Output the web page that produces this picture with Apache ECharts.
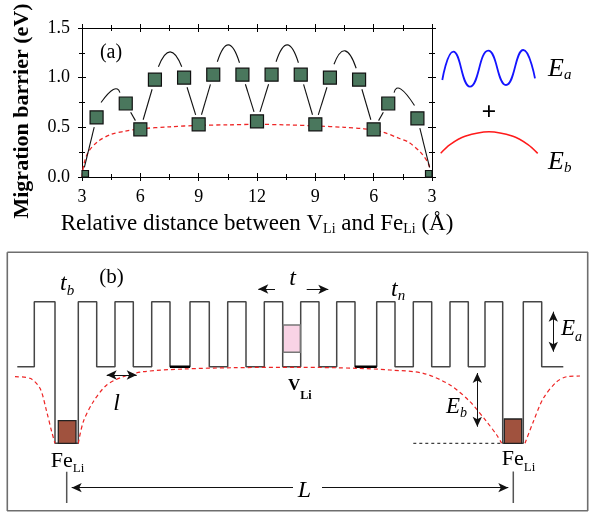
<!DOCTYPE html>
<html><head><meta charset="utf-8">
<script src="https://cdn.jsdelivr.net/npm/echarts@6/dist/echarts.min.js"></script>
<style>html,body{margin:0;padding:0;background:#fff}#c{width:589px;height:514px}</style>
</head><body><div id="c"></div>
<script>
// ---------- panel (a): migration barrier vs distance ----------
const distPos = [3,3.75,5.25,6,6.75,8.25,9,9.75,11.25,12,12.75,14.25,15,15.75,17.25,18,18.75,20.25,21];
const barrier = [0.0,0.60,0.74,0.48,0.98,1.00,0.53,1.03,1.03,0.56,1.03,1.03,0.53,1.00,0.98,0.48,0.74,0.59,0.0];
const xTickLabels = {3:'3',6:'6',9:'9',12:'12',15:'9',18:'6',21:'3'};
const segPairs = [[0,1],[2,3],[3,4],[5,6],[6,7],[8,9],[9,10],[11,12],[12,13],[14,15],[15,16],[17,18]];
const arcStart = [[3.98,0.75],[6.93,1.11],[9.96,1.16],[12.98,1.16],[15.96,1.135],[19.05,0.85]];
const arcPeak  = [[4.61,0.88],[7.53,1.26],[10.53,1.33],[13.56,1.33],[16.53,1.27],[19.40,0.885]];
const arcEnd   = [[4.95,0.85],[8.13,1.11],[11.10,1.15],[14.13,1.15],[17.10,1.095],[20.10,0.72]];
const ebX = [3,3.1,3.32,3.8,4.5,5.2,6,7.5,9,10.5,12,13.5,15,16.5,17.5,18.5,19.3,19.8,20.4,20.8,21];
const ebY = [0,0.13,0.25,0.355,0.43,0.46,0.485,0.505,0.52,0.525,0.53,0.525,0.515,0.50,0.485,0.45,0.39,0.35,0.25,0.14,0];

// ---------- schematic (legend waves + panel b), schematic units ----------
const sineWave = [[442.3,80],[453.3,51.7],[470,86.7],[488.3,50.7],[506,85],[523.3,50],[535,78.3]];
const ebArc = [[440.7,153.2],[450,144.6],[465,136.3],[489,131.7],[513,136.3],[528,144.6],[537.7,153.4]];
const wellX = [17.3,34.3,55,78.3,96.7,115,133.3,151.7,170,190,209.3,227.7,246,264.3,282.7,300.7,319,336.7,355,376.7,395,413.3,431.7,450,468.3,485,502.7,523.3,541.7,563.3];
const wellLevel = ['B','T','D','T','B','T','B','T','B','T','B','T','B','T','B','T','B','T','B','T','B','T','B','T','B','T','D','T','B'];
const levelY = {T:301.7, B:366.7, D:443.3};
const darkBase = [8,18];
const ebLeft = [[15,376.7],[30,378.3],[40,388.3],[46.7,411.7],[51.7,431.7],[55,443.3]];
const ebMid = [[78.3,443.3],[83.3,421.7],[93.3,401.7],[106.7,385],[123.3,376.7],[143.3,371.7],[183.3,369],[233,367.7],[300,367.3],[356.7,368.3],[390,370],[423.3,373.3],[450,385],[470,401.7],[486.7,421.7],[496.7,435],[501.7,443.3]];
const ebRight = [[525,443.3],[533.3,421.7],[543.3,398.3],[556.7,381.7],[566.7,376.7],[580,376]];
const refLine = [[413.3,443.3],[501.7,443.3]];
const panelBox = [[7.3,252.3],[587.7,252.3],[587.7,510.7],[7.3,510.7],[7.3,252.3]];
const siteBoxes = [[58.3,420.7,76,443.3,0],[504.3,419,521.7,443.3,0],[283.3,325,300.3,352.3,1]];
const lTicks = [[66.7,471.7],[66.7,503],null,[513.3,471.5],[513.3,503]];
const arrowDefs = [
  [101.7,375,141.7,375,1,1],
  [275,289,253.3,289,0,1],
  [306.7,289.3,333.3,289.3,0,1],
  [553.3,306.7,553.3,356.7,1,1],
  [477.3,368,477.3,431.7,1,1],
  [293,487.7,66.7,487.7,0,1],
  [322,487.7,513.3,487.7,0,1]
];

const SERIF = '"Liberation Serif","Times New Roman",serif';
const mctx = document.createElement('canvas').getContext('2d');
function tw(font, s){ mctx.font = font; return mctx.measureText(s).width; }
function textRun(x, y, parts, align){
  const widths = parts.map(p => tw(p[1], p[0]));
  const W = widths.reduce((a,b)=>a+b,0);
  let cx = align === 'center' ? x - W/2 : x;
  return parts.map((p,i) => {
    const el = {type:'text', x:cx, y:y+(p[2]||0), silent:true, z:100,
      style:{text:p[0], font:p[1], fill:'#000', align:'left', verticalAlign:'middle', textAlign:'left', textVerticalAlign:'middle'}};
    cx += widths[i];
    return el;
  });
}
const f = (sz, st, wt) => (st||'normal') + ' ' + (wt||'normal') + ' ' + sz + 'px ' + SERIF;

const profile = [];
for (let i = 0; i < wellLevel.length; i++) {
  const y = levelY[wellLevel[i]];
  profile.push([wellX[i], y], [wellX[i+1], y]);
}
const darkSegs = [];
darkBase.forEach(i => { darkSegs.push([wellX[i], levelY.B], [wellX[i+1], levelY.B], null); });

const HEAD = 5;
const arrowLines = arrowDefs.map(a => {
  let [x0,y0,x1,y1,h0,h1] = a;
  const L = Math.hypot(x1-x0, y1-y0), dx = (x1-x0)/L, dy = (y1-y0)/L;
  if (h0) { x0 += dx*HEAD; y0 += dy*HEAD; }
  if (h1) { x1 -= dx*HEAD; y1 -= dy*HEAD; }
  return [{coord:[x0,y0], symbol: h0 ? 'arrow' : 'none'}, {coord:[x1,y1], symbol: h1 ? 'arrow' : 'none'}];
});

const axisFont = {fontFamily: SERIF, fontSize: 18, color: '#000'};
const blk = {color:'#000', width:1};
function xAx(pos, inside, showLine, showLabel){
  return {gridIndex:0, type:'value', min:3, max:21, interval:3, position:pos,
    axisLine:{show:showLine, onZero:false, lineStyle:blk},
    axisTick:{show:true, inside:inside, length:4, lineStyle:blk},
    minorTick:{show:true, splitNumber:2, length:3, lineStyle:blk},
    splitLine:{show:false}, minorSplitLine:{show:false},
    axisLabel:{show:showLabel, margin:11, formatter:v => xTickLabels[v] || '', ...axisFont}};
}
function yAx(pos, inside, showLine, showLabel){
  return {gridIndex:0, type:'value', min:0, max:1.5, interval:0.5, position:pos,
    axisLine:{show:showLine, onZero:false, lineStyle:blk},
    axisTick:{show:true, inside:inside, length:4, lineStyle:blk},
    minorTick:{show:true, splitNumber:2, length:3, lineStyle:blk},
    splitLine:{show:false}, minorSplitLine:{show:false},
    axisLabel:{show:showLabel, margin:12, formatter:v => v.toFixed(1), ...axisFont}};
}

const chart = echarts.init(document.getElementById('c'), null, {renderer:'canvas'});
const option = {
  animation:false,
  backgroundColor:'#fff',
  grid:[
    {left:82, top:28, width:350, height:149, containLabel:false, outerBoundsMode:'none'},
    {left:0, top:0, width:589, height:514, containLabel:false, outerBoundsMode:'none'}
  ],
  xAxis:[
    xAx('bottom', true, true, true),
    xAx('bottom', false, false, false),
    xAx('top', true, true, false),
    xAx('top', false, false, false),
    {gridIndex:1, type:'value', min:0, max:589, show:false}
  ],
  yAxis:[
    yAx('left', true, true, true),
    yAx('left', false, false, false),
    yAx('right', true, true, false),
    yAx('right', false, false, false),
    {gridIndex:1, type:'value', min:0, max:514, inverse:true, show:false}
  ],
  series:[
    {type:'line', xAxisIndex:0, yAxisIndex:0, data: ebX.map((x,i)=>[x, ebY[i]]), smooth:0.3, symbol:'none', z:2, silent:true,
      lineStyle:{color:'#ee2525', width:1.3, type:[4,3]}},
    {type:'custom', xAxisIndex:0, yAxisIndex:0, z:3, silent:true,
      data: segPairs.map(p => [distPos[p[0]], barrier[p[0]], distPos[p[1]], barrier[p[1]]]),
      renderItem:(params, api) => {
        const a = api.coord([api.value(0), api.value(1)]), b = api.coord([api.value(2), api.value(3)]);
        const L = Math.hypot(b[0]-a[0], b[1]-a[1]), ux = (b[0]-a[0])/L, uy = (b[1]-a[1])/L, g = 10;
        return {type:'line', shape:{x1:a[0]+ux*g, y1:a[1]+uy*g, x2:b[0]-ux*g, y2:b[1]-uy*g}, style:{stroke:'#111', lineWidth:1.1}};
      }},
    {type:'custom', xAxisIndex:0, yAxisIndex:0, z:3, silent:true,
      data: arcStart.map((s,i) => [s[0], s[1], arcPeak[i][0], arcPeak[i][1], arcEnd[i][0], arcEnd[i][1]]),
      renderItem:(params, api) => {
        const p0 = api.coord([api.value(0), api.value(1)]), pk = api.coord([api.value(2), api.value(3)]), p1 = api.coord([api.value(4), api.value(5)]);
        const cx = 2*pk[0] - (p0[0]+p1[0])/2, cy = 2*pk[1] - (p0[1]+p1[1])/2;
        return {type:'bezierCurve', shape:{x1:p0[0], y1:p0[1], x2:p1[0], y2:p1[1], cpx1:cx, cpy1:cy}, style:{stroke:'#111', fill:'none', lineWidth:1.1}};
      }},
    {type:'custom', xAxisIndex:0, yAxisIndex:0, z:5, silent:true,
      data: distPos.map((x,i) => [x, barrier[i]]),
      renderItem:(params, api) => {
        const c = api.coord([api.value(0), api.value(1)]), cs = params.coordSys, h = 6.5;
        const x0 = Math.max(c[0]-h, cs.x), x1 = Math.min(c[0]+h, cs.x+cs.width);
        const y0 = Math.max(c[1]-h, cs.y), y1 = Math.min(c[1]+h, cs.y+cs.height);
        return {type:'rect', shape:{x:x0, y:y0, width:x1-x0, height:y1-y0}, style:{fill:'#4a775d', stroke:'#111', lineWidth:1.2}};
      }},
    // legend waves
    {type:'line', xAxisIndex:4, yAxisIndex:4, data:sineWave, smooth:0.5, symbol:'none', silent:true, lineStyle:{color:'#1414ff', width:1.8}},
    {type:'line', xAxisIndex:4, yAxisIndex:4, data:ebArc, smooth:0.3, symbol:'none', silent:true, lineStyle:{color:'#ff1a1a', width:1.5}},
    // panel (b)
    {type:'line', xAxisIndex:4, yAxisIndex:4, data:panelBox, symbol:'none', silent:true, lineStyle:{color:'#6e6e6e', width:1.6}},
    {type:'line', xAxisIndex:4, yAxisIndex:4, data:profile, symbol:'none', silent:true, z:3, lineStyle:{color:'#464646', width:1.5}},
    {type:'line', xAxisIndex:4, yAxisIndex:4, data:darkSegs, symbol:'none', silent:true, z:3, connectNulls:false, lineStyle:{color:'#000', width:2.6}},
    {type:'line', xAxisIndex:4, yAxisIndex:4, data:ebLeft, smooth:0.3, symbol:'none', silent:true, z:4, lineStyle:{color:'#ee2525', width:1.2, type:[4,3]}},
    {type:'line', xAxisIndex:4, yAxisIndex:4, data:ebMid, smooth:0.3, symbol:'none', silent:true, z:4, lineStyle:{color:'#ee2525', width:1.2, type:[4,3]}},
    {type:'line', xAxisIndex:4, yAxisIndex:4, data:ebRight, smooth:0.3, symbol:'none', silent:true, z:4, lineStyle:{color:'#ee2525', width:1.2, type:[4,3]}},
    {type:'line', xAxisIndex:4, yAxisIndex:4, data:lTicks, symbol:'none', silent:true, connectNulls:false, lineStyle:{color:'#555', width:1.5}},
    {type:'custom', xAxisIndex:4, yAxisIndex:4, z:5, silent:true, data:siteBoxes,
      renderItem:(params, api) => {
        const a = api.coord([api.value(0), api.value(1)]), b = api.coord([api.value(2), api.value(3)]);
        const fe = api.value(4) === 0;
        return {type:'rect', shape:{x:a[0], y:a[1], width:b[0]-a[0], height:b[1]-a[1]},
          style:{fill: fe ? '#a0523e' : '#f9d3e5', stroke: fe ? '#222' : '#777', lineWidth: fe ? 1.3 : 1.4}};
      }},
    {type:'line', xAxisIndex:4, yAxisIndex:4, data:refLine, symbol:'none', silent:true, lineStyle:{color:'#111', width:1, type:[3,3]},
      markLine:{silent:true, animation:false, symbol:['none','none'], symbolSize:[7,10], label:{show:false},
        lineStyle:{color:'#111', width:1, type:'solid'}, emphasis:{disabled:true}, data: arrowLines}}
  ],
  graphic: [].concat(
    [{type:'text', x:22, y:111, rotation:Math.PI/2, silent:true,
      style:{text:'Migration barrier (eV)', font:f(22,'normal','bold'), fill:'#000', align:'center', verticalAlign:'middle', textAlign:'center', textVerticalAlign:'middle'}}],
    textRun(257, 223.5, [['Relative distance between V', f(23)], ['Li', f(14), 6], [' and Fe', f(23)], ['Li', f(14), 6], [' (\u00c5)', f(23)]], 'center'),
    textRun(111, 53, [['(a)', f(20)]], 'center'),
    textRun(548, 69.5, [['E', f(26,'italic')], ['a', f(15,'italic'), 6]], 'left'),
    textRun(548, 162.5, [['E', f(26,'italic')], ['b', f(15,'italic'), 6]], 'left'),
    textRun(489, 113.5, [['+', f(26,'normal','bold')]], 'center'),
    textRun(111.5, 277, [['(b)', f(21)]], 'center'),
    textRun(60, 283.5, [['t', f(24,'italic')], ['b', f(15,'italic'), 8]], 'left'),
    textRun(292.5, 278.5, [['t', f(24,'italic')]], 'center'),
    textRun(391, 290, [['t', f(24,'italic')], ['n', f(15,'italic'), 6.5]], 'left'),
    textRun(116.5, 403.5, [['l', f(24,'italic')]], 'center'),
    textRun(288, 386, [['V', f(17,'normal','bold')], ['Li', f(12,'normal','bold'), 10]], 'left'),
    textRun(50.7, 461, [['Fe', f(22)], ['Li', f(13), 8]], 'left'),
    textRun(501.7, 459.6, [['Fe', f(22)], ['Li', f(13), 8]], 'left'),
    textRun(304.5, 490.5, [['L', f(24,'italic')]], 'center'),
    textRun(561, 329, [['E', f(23,'italic')], ['a', f(14,'italic'), 8]], 'left'),
    textRun(446, 407, [['E', f(23,'italic')], ['b', f(14,'italic'), 6.5]], 'left')
  )
};
chart.setOption(option);
</script>
</body></html>
